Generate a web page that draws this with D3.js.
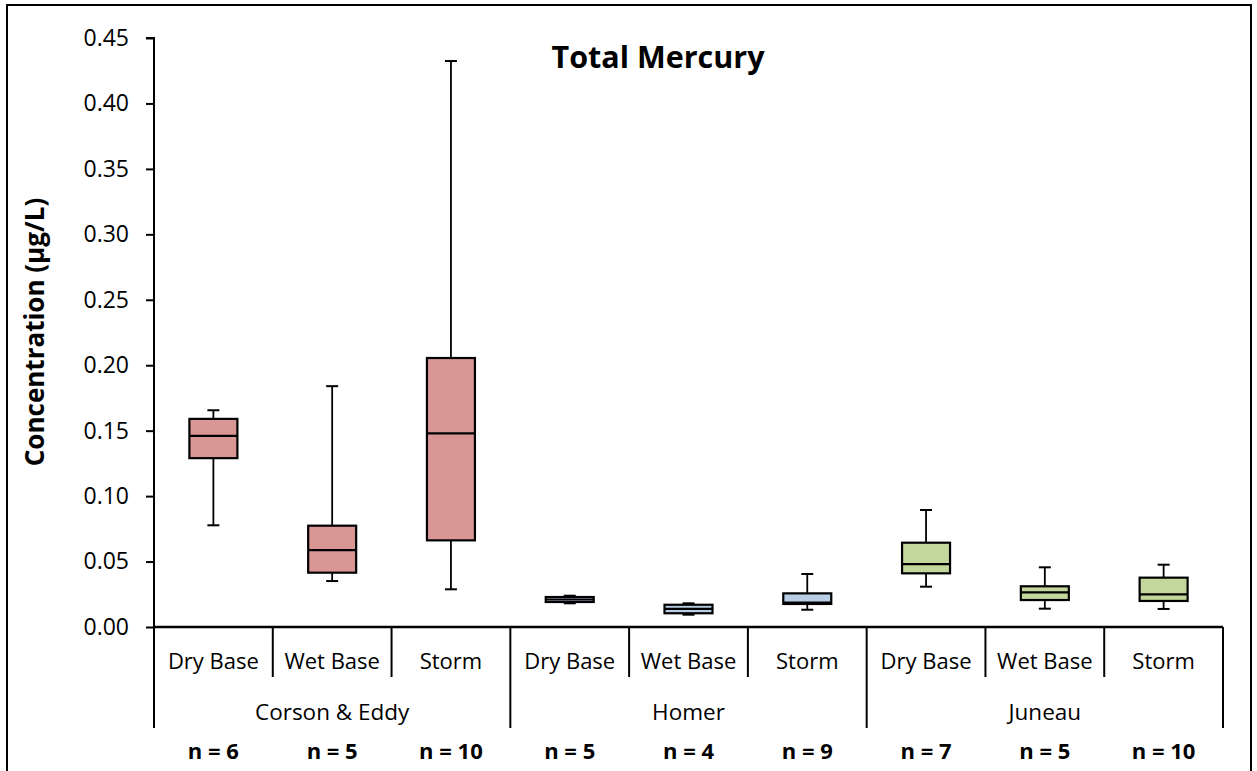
<!DOCTYPE html>
<html>
<head>
<meta charset="utf-8">
<script src="https://cdn.jsdelivr.net/npm/d3@7"></script>
<style>
  html, body { margin: 0; padding: 0; background: #fff; }
  svg { display: block; }
  text { font-family: "Open Sans", sans-serif; fill: #000; }
</style>
</head>
<body>
<svg id="chart" width="1257" height="771"></svg>
<script>
// ---- data ----
const groups = ["Corson & Eddy", "Homer", "Juneau"];
const subCategories = ["Dry Base", "Wet Base", "Storm"];
const nCounts = [6, 5, 10, 5, 4, 9, 7, 5, 10];
const whiskerMin = [0.0777, 0.0351, 0.0288, 0.0181, 0.0094, 0.0132, 0.0308, 0.0140, 0.0138];
const q1Values   = [0.1290, 0.0415, 0.0662, 0.0191, 0.0105, 0.0176, 0.0410, 0.0206, 0.0199];
const medians    = [0.1460, 0.0588, 0.1480, 0.0210, 0.0138, 0.0186, 0.0481, 0.0265, 0.0250];
const q3Values   = [0.1590, 0.0774, 0.2055, 0.0229, 0.0170, 0.0257, 0.0644, 0.0311, 0.0377];
const whiskerMax = [0.1656, 0.1840, 0.4324, 0.0239, 0.0181, 0.0405, 0.0894, 0.0456, 0.0476];
const yTicks = [0, 0.05, 0.10, 0.15, 0.20, 0.25, 0.30, 0.35, 0.40, 0.45];
const groupColors = ["#D99694", "#B9CDE5", "#C3D69B"];

// ---- layout ----
const svg = d3.select("#chart");
const plot = { left: 154, right: 1223, top: 38, bottom: 627 };

const items = [];
groups.forEach((g, gi) => subCategories.forEach((s, si) => {
  const i = gi * subCategories.length + si;
  items.push({ id: i, group: g, gi, sub: s, n: nCounts[i],
    min: whiskerMin[i], q1: q1Values[i], med: medians[i], q3: q3Values[i], max: whiskerMax[i] });
}));

const x = d3.scaleBand().domain(items.map(d => d.id))
  .range([plot.left, plot.right]).paddingInner(0.596).paddingOuter(0.298);
const step = x.step();
const y = d3.scaleLinear().domain([0, 0.45]).range([plot.bottom, plot.top]);

// outer border
svg.append("rect").attr("x", 7).attr("y", 5).attr("width", 1244).attr("height", 780)
  .attr("fill", "none").attr("stroke", "#000").attr("stroke-width", 2);

// y axis
const yAxis = d3.axisLeft(y).tickValues(yTicks).tickFormat(d3.format(".2f")).tickSize(8).tickPadding(17);
const gy = svg.append("g").attr("transform", `translate(${plot.left},0)`).call(yAxis);
gy.select(".domain").attr("stroke", "#000").attr("stroke-width", 2).attr("d", `M-8,${plot.top}H0V${plot.bottom}`);
gy.selectAll(".tick line").attr("stroke", "#000").attr("stroke-width", 2);
gy.selectAll(".tick text").style("font-size", "23px").attr("fill", "#000");

// x axis line
svg.append("line").attr("x1", plot.left).attr("x2", plot.right)
  .attr("y1", plot.bottom).attr("y2", plot.bottom).attr("stroke", "#000").attr("stroke-width", 2.5);

// category separators
d3.range(items.length + 1).forEach(k => {
  const xx = plot.left + k * step;
  const isGroup = k % subCategories.length === 0;
  svg.append("line").attr("x1", xx).attr("x2", xx)
    .attr("y1", plot.bottom).attr("y2", isGroup ? 728 : 677)
    .attr("stroke", "#000").attr("stroke-width", 2);
});

// sub-category labels
svg.selectAll(".sublabel").data(items).enter().append("text")
  .attr("x", d => x(d.id) + x.bandwidth() / 2).attr("y", 661).attr("dy", "0.36em")
  .attr("text-anchor", "middle").style("font-size", "22px").text(d => d.sub);

// group labels
svg.selectAll(".grouplabel").data(groups).enter().append("text")
  .attr("x", (d, i) => plot.left + (i * 3 + 1.5) * step).attr("y", 712).attr("dy", "0.36em")
  .attr("text-anchor", "middle").style("font-size", "22.5px").text(d => d);

// n labels
svg.selectAll(".nlabel").data(items).enter().append("text")
  .attr("x", d => x(d.id) + x.bandwidth() / 2).attr("y", 751).attr("dy", "0.36em")
  .attr("text-anchor", "middle").style("font-size", "22px").style("font-weight", "bold")
  .text(d => `n = ${d.n}`);

// boxes
const bw = x.bandwidth();
const capW = 12;
const boxes = svg.selectAll(".box").data(items).enter().append("g").attr("class", "box");
boxes.append("line").attr("x1", d => x(d.id) + bw / 2).attr("x2", d => x(d.id) + bw / 2)
  .attr("y1", d => y(d.max)).attr("y2", d => y(d.min)).attr("stroke", "#000").attr("stroke-width", 1.8);
["min", "max"].forEach(k => {
  boxes.append("line").attr("x1", d => x(d.id) + bw / 2 - capW / 2).attr("x2", d => x(d.id) + bw / 2 + capW / 2)
    .attr("y1", d => y(d[k])).attr("y2", d => y(d[k])).attr("stroke", "#000").attr("stroke-width", 2);
});
boxes.append("rect").attr("x", d => x(d.id)).attr("width", bw)
  .attr("y", d => y(d.q3)).attr("height", d => y(d.q1) - y(d.q3))
  .attr("fill", d => groupColors[d.gi]).attr("stroke", "#000").attr("stroke-width", 2.2);
boxes.append("line").attr("x1", d => x(d.id)).attr("x2", d => x(d.id) + bw)
  .attr("y1", d => y(d.med)).attr("y2", d => y(d.med)).attr("stroke", "#000").attr("stroke-width", 2.2);

// title
svg.append("text").attr("x", 658).attr("y", 57).attr("dy", "0.36em").attr("text-anchor", "middle")
  .style("font-size", "30.5px").style("font-weight", "bold").text("Total Mercury");

// y label
svg.append("text").attr("transform", "translate(35,332) rotate(-90)").attr("dy", "0.36em")
  .attr("text-anchor", "middle").style("font-size", "26px").style("font-weight", "bold")
  .text("Concentration (µg/L)");
</script>
</body>
</html>
